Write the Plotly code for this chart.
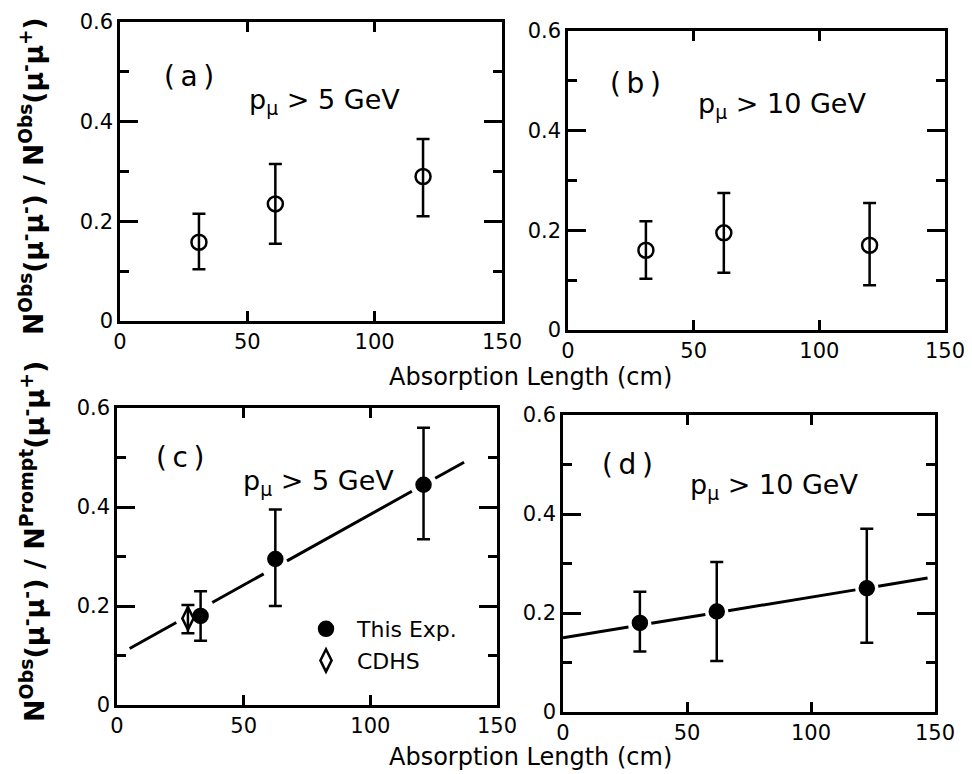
import plotly.graph_objects as go

# ---------------- data ----------------
x_ticks = [0, 50, 100, 150]
y_ticks = [0, 0.2, 0.4, 0.6]
y_ticktext = ["0", "0.2", "0.4", "0.6"]
y_minor = [0.1, 0.3, 0.5]

# (a) p_mu > 5 GeV, N_obs(mu-mu-)/N_obs(mu-mu+)
len_a = [31, 61, 119]
val_a = [0.158, 0.235, 0.29]
errp_a = [0.057, 0.08, 0.075]
errm_a = [0.054, 0.08, 0.08]

# (b) p_mu > 10 GeV
len_b = [31, 62, 120]
val_b = [0.16, 0.195, 0.17]
errp_b = [0.058, 0.08, 0.085]
errm_b = [0.057, 0.08, 0.08]

# (c) p_mu > 5 GeV, N_obs(mu-mu-)/N_prompt(mu-mu+)
len_c = [33, 62.5, 121]
val_c = [0.18, 0.295, 0.445]
errp_c = [0.05, 0.1, 0.115]
errm_c = [0.05, 0.095, 0.11]
len_cdhs = [28]
val_cdhs = [0.175]
errp_cdhs = [0.027]
errm_cdhs = [0.03]
fit_c = [0.10, 0.00285]      # intercept, slope
fit_c_range = [5, 137]

# (d) p_mu > 10 GeV
len_d = [31, 62, 122.5]
val_d = [0.18, 0.203, 0.25]
errp_d = [0.063, 0.1, 0.12]
errm_d = [0.058, 0.1, 0.11]
fit_d = [0.15, 0.00082]
fit_d_range = [0, 147]

legend_names = ["\u2002This Exp.", "\u2002CDHS"]

gap_half = 4.6  # line gap around each marker (cm units)

FONT = "DejaVu Sans"
W, H = 972, 774
OFF = 8  # page body margin


def px(x):
    return (x - OFF) / W


def py(y):
    return 1 - (y - OFF) / H


# panel domains (paper), from reference pixel boxes
dom = {
    "a": ([px(120), px(502)], [py(321), py(22)]),
    "b": ([px(568), px(945)], [py(330), py(31)]),
    "c": ([px(117), px(497)], [py(705), py(408)]),
    "d": ([px(563), px(935)], [py(712), py(415)]),
}
axes = {"a": ("x", "y"), "b": ("x2", "y2"), "c": ("x3", "y3"), "d": ("x4", "y4")}


def broken_line(fit, rng, centers):
    gaps = sorted([[c - gap_half, c + gap_half] for c in centers])
    merged = []
    for g in gaps:
        if merged and g[0] <= merged[-1][1]:
            merged[-1][1] = max(merged[-1][1], g[1])
        else:
            merged.append(list(g))
    xs, ys = [], []
    start = rng[0]
    for g in merged:
        xs += [start, g[0], None]
        start = g[1]
    xs += [start, rng[1]]
    for v in xs:
        ys.append(None if v is None else fit[0] + fit[1] * v)
    return xs, ys


fig = go.Figure()


def pts(panel, xs, ys, ep, em, symbol, name=None, showlegend=False, size=14):
    xa, ya = axes[panel]
    fig.add_trace(go.Scatter(
        x=xs, y=ys, mode="markers", xaxis=xa, yaxis=ya,
        name=name, showlegend=showlegend,
        marker=dict(symbol=symbol, size=size, color="black",
                    line=dict(color="black", width=2.5)),
        error_y=dict(type="data", symmetric=False, array=ep, arrayminus=em,
                     color="black", thickness=2.5, width=6.5),
    ))


# fitted lines first
for panel, fit, rng, centers in [("c", fit_c, fit_c_range, len_c + len_cdhs),
                                 ("d", fit_d, fit_d_range, len_d)]:
    lx, ly = broken_line(fit, rng, centers)
    xa, ya = axes[panel]
    fig.add_trace(go.Scatter(x=lx, y=ly, mode="lines", xaxis=xa, yaxis=ya,
                             showlegend=False, line=dict(color="black", width=3)))

pts("a", len_a, val_a, errp_a, errm_a, "circle-open", size=15)
pts("b", len_b, val_b, errp_b, errm_b, "circle-open", size=15)
pts("c", len_c, val_c, errp_c, errm_c, "circle", name=legend_names[0], showlegend=True)
pts("c", len_cdhs, val_cdhs, errp_cdhs, errm_cdhs, "diamond-tall-open",
    name=legend_names[1], showlegend=True, size=16)
pts("d", len_d, val_d, errp_d, errm_d, "circle")

layout = dict(
    template="none",
    width=W, height=H, margin=dict(l=0, r=0, t=0, b=0, pad=0, autoexpand=False),
    paper_bgcolor="white", plot_bgcolor="white",
    font=dict(family=FONT, color="black", size=20),
    legend=dict(x=px(306), y=py(608), xanchor="left", yanchor="top",
                bgcolor="rgba(0,0,0,0)", font=dict(size=22, family=FONT),
                tracegroupgap=0, itemsizing="trace", borderwidth=0),
)
for i, p in enumerate(["a", "b", "c", "d"]):
    suf = "" if i == 0 else str(i + 1)
    dx, dy = dom[p]
    layout["xaxis" + suf] = dict(
        domain=dx, range=[0, 150], anchor="y" + suf, automargin=False,
        tickvals=x_ticks, ticks="inside", ticklen=10, tickwidth=2.5,
        tickcolor="black", showline=True, linecolor="black", linewidth=2.5,
        mirror="ticks", showgrid=False, zeroline=False,
        tickfont=dict(size=21, family=FONT),
    )
    layout["yaxis" + suf] = dict(
        domain=dy, range=[0, 0.6], anchor="x" + suf, automargin=False,
        tickvals=y_ticks, ticktext=y_ticktext, ticks="inside", ticklen=18,
        tickwidth=2.5, tickcolor="black", showline=True, linecolor="black",
        linewidth=2.5, mirror="ticks", showgrid=False, zeroline=False,
        tickfont=dict(size=21, family=FONT),
        minor=dict(tickvals=y_minor, ticks="inside", ticklen=9, tickwidth=2.5,
                   tickcolor="black", showgrid=False),
    )
fig.update_layout(**layout)

ann = []
# panel labels
for p, lab, gev, lx, ly, gx, gy in [
    ("a", "(\u2009a\u2009)", "5 GeV", 27, 0.49, 50, 0.44),
    ("b", "(\u2009b\u2009)", "10 GeV", 27, 0.495, 51, 0.45),
    ("c", "(\u2009c\u2009)", "5 GeV", 25, 0.5, 49, 0.45),
    ("d", "(\u2009d\u2009)", "10 GeV", 26, 0.5, 50.5, 0.455),
]:
    xa, ya = axes[p]
    ann.append(dict(x=lx, y=ly, xref=xa, yref=ya, text=lab, showarrow=False,
                    font=dict(size=28, family=FONT), xanchor="center", yanchor="middle"))
    ann.append(dict(x=gx, y=gy, xref=xa, yref=ya,
                    text="p<sub>μ</sub> > " + gev,
                    showarrow=False,
                    font=dict(size=27, family=FONT), xanchor="left", yanchor="middle"))

# x-axis titles
for yy in [377, 757]:
    ann.append(dict(x=px(530), y=py(yy), xref="paper", yref="paper",
                    text="Absorption Length (cm)", showarrow=False,
                    font=dict(size=24, family=FONT), xanchor="center", yanchor="middle"))

# y-axis titles
ann.append(dict(x=px(32), y=py(176), xref="paper", yref="paper", textangle=-90,
                text="<b>N<sup>Obs</sup>(μ<sup>-</sup>μ<sup>-</sup>) / N<sup>Obs</sup>(μ<sup>-</sup>μ<sup>+</sup>)</b>",
                showarrow=False, font=dict(size=26.5, family=FONT),
                xanchor="center", yanchor="middle"))
ann.append(dict(x=px(32), y=py(542), xref="paper", yref="paper", textangle=-90,
                text="<b>N<sup>Obs</sup>(μ<sup>-</sup>μ<sup>-</sup>) / N<sup>Prompt</sup>(μ<sup>-</sup>μ<sup>+</sup>)</b>",
                showarrow=False, font=dict(size=27, family=FONT),
                xanchor="center", yanchor="middle"))
fig.update_layout(annotations=ann)

fig.write_html("out.html")
